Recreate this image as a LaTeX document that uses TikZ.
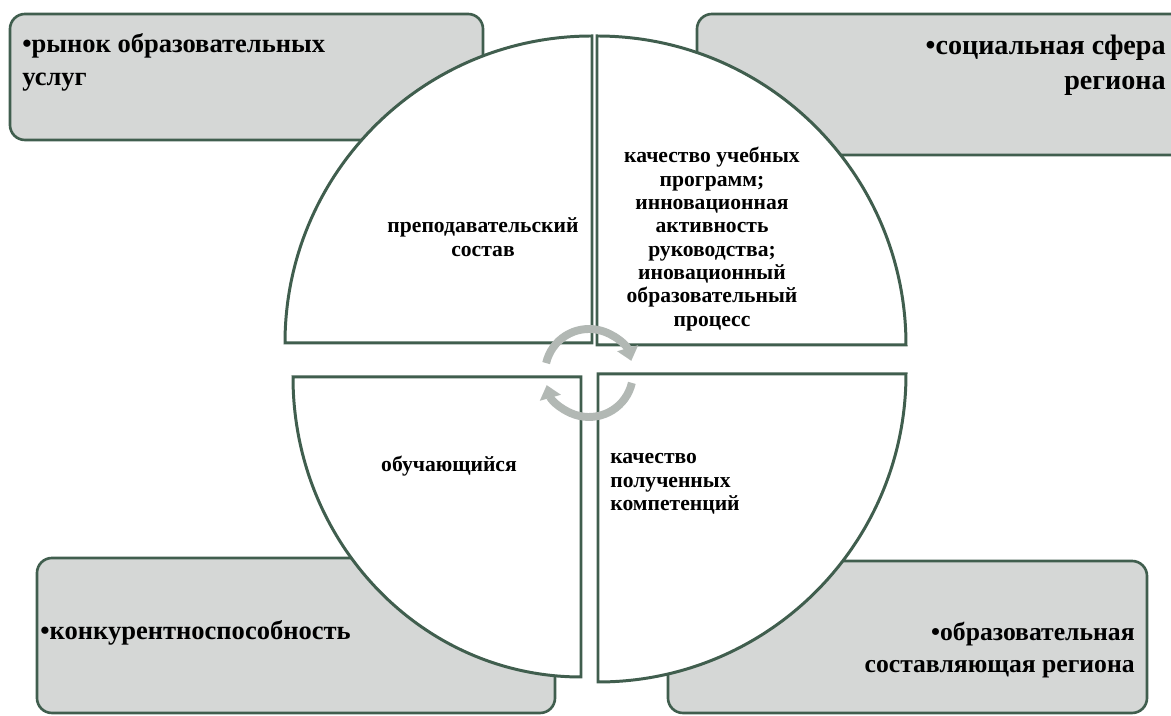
\documentclass[tikz,border=0pt]{standalone}
\usepackage{fontspec}
\setmainfont{Liberation Serif}
\usetikzlibrary{arrows.meta}
\definecolor{rimgreen}{RGB}{64,94,78}
\definecolor{boxgray}{RGB}{213,215,214}
\definecolor{loopgray}{RGB}{178,184,180}

\begin{document}
\begin{tikzpicture}[x=0.02cm, y=0.02cm,
    outerbox/.style={draw=rimgreen, line width=1.5pt, fill=boxgray, rounded corners=8.5pt},
    quarter/.style={draw=rimgreen, line width=1.7pt, fill=white},
    outertext/.style={font=\fontsize{15.1}{18.7}\selectfont\bfseries, inner sep=0pt},
    innertext/.style={font=\fontsize{12.3}{13.3}\selectfont\bfseries, inner sep=0pt, align=center},
    looparrow/.style={draw=loopgray, line width=4.5pt, -{Triangle[width=12pt,length=7.5pt]}}]
    \useasboundingbox (0,0) rectangle (1171,716);
    \clip (0,0) rectangle (1171,716);

    \draw[outerbox] (10,576) rectangle (483,702);
    \draw[outerbox] (697,561) rectangle (1200,702);
    \draw[outerbox] (37,3) rectangle (555,158);
    \draw[outerbox] (668,3) rectangle (1147,155);
    \node[outertext, anchor=north west, align=left] (market) at (22,683) {•рынок образовательных\\услуг};
    \node[outertext, anchor=north east, align=right, font=\fontsize{16}{19.8}\selectfont\bfseries] (social) at (1166,681) {•социальная сфера\\региона};
    \node[outertext, anchor=west] (compet) at (40,83) {•конкурентноспособность};
    \node[outertext, anchor=east, align=right, font=\fontsize{14.6}{18.6}\selectfont\bfseries] (eduregion) at (1135,66) {•образовательная\\составляющая региона};

    \draw[quarter] (592,373) -- (285,373) arc[start angle=180, end angle=90, radius=307] -- cycle;
    \draw[quarter] (597,371) -- (597,680) arc[start angle=90, end angle=0, radius=309] -- cycle;
    \draw[quarter] (581,339) -- (581,39) arc[start angle=270, end angle=180, x radius=288, y radius=300] -- cycle;
    \draw[quarter] (598,342) -- (906,342) arc[start angle=0, end angle=-90, radius=308] -- cycle;

    \node[innertext] (staff) at (483,479) {преподавательский\\состав};
    \node[innertext] (programs) at (712,477) {качество учебных\\программ;\\инновационная\\активность\\руководства;\\иновационный\\образовательный\\процесс};
    \node[innertext] (student) at (449,250) {обучающийся};
    \node[innertext, anchor=west, align=left] (skills) at (610,232) {качество\\полученных\\компетенций};

    \coordinate (hub) at (589,343);
    \draw[looparrow] ([shift={(167:44)}]hub) arc[start angle=167, end angle=16, radius=44];
    \draw[looparrow] ([shift={(-13:44)}]hub) arc[start angle=-13, end angle=-164, radius=44];
  \end{tikzpicture}
\end{document}
